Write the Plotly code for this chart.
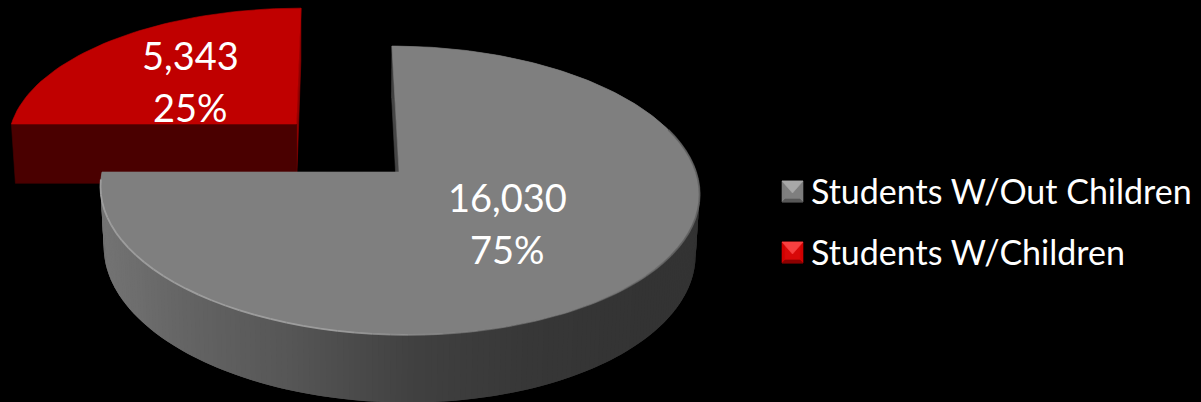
import math
import plotly.graph_objects as go

# Chart data
categories = ["Students W/Out Children", "Students W/Children"]
values = [16030, 5343]

# Slice styling
FACE_COLORS = ["#7f7f7f", "#c00000"]
RADIAL_WALL_COLORS = ["#454545", "#900000"]
OUTER_WALL_RED = "#4a0000"
# Outer wall shading of the grey slice, by screen x
WALL_STOPS = [(100, 0x74), (180, 0x64), (280, 0x56), (400, 0x41), (520, 0x37), (640, 0x33), (700, 0x33)]

# Perspective camera for the tilted disc
VANISH_X = 337.0
HORIZON_Y = -938.0
DEPTH_K = 0.128
TOP_PLANE = 1110.0
BOTTOM_PLANES = [1169.0, 1172.0]
RADII = [297.0, 298.0]
# Each slice: world offset (x, depth), x pivot and scale of its lower rim
SLICE_OFFSETS = [(62.0, 0.0), (-42.3, 0.353)]
LOWER_RIM = [(370.0, 0.988), (296.5, 0.986)]


def project(i, u, v, plane):
    offset = SLICE_OFFSETS[i]
    w = 1 + DEPTH_K * (offset[1] + v)
    return VANISH_X + (offset[0] + RADII[i] * u) / w, HORIZON_Y + plane / w


def top_point(i, angle):
    a = math.radians(angle)
    return project(i, math.sin(a), math.cos(a), TOP_PLANE)


def bottom_point(i, angle):
    a = math.radians(angle)
    x, y = project(i, math.sin(a), math.cos(a), BOTTOM_PLANES[i])
    pivot, scale = LOWER_RIM[i]
    return pivot + (x - pivot) * scale, y


def apex_top(i):
    return project(i, 0, 0, TOP_PLANE)


def apex_bottom(i):
    x, y = project(i, 0, 0, BOTTOM_PLANES[i])
    pivot, scale = LOWER_RIM[i]
    return pivot + (x - pivot) * scale, y


def grey_shade(x):
    for (x0, g0), (x1, g1) in zip(WALL_STOPS, WALL_STOPS[1:]):
        if x <= x1:
            t = max(0.0, (x - x0) / (x1 - x0))
            g = round(g0 + (g1 - g0) * t)
            return f"rgb({g},{g},{g})"
    g = WALL_STOPS[-1][1]
    return f"rgb({g},{g},{g})"


def polygon(fig, points, color, name=None, edge=0.6):
    xs = [p[0] for p in points] + [points[0][0]]
    ys = [p[1] for p in points] + [points[0][1]]
    fig.add_trace(go.Scatter(
        x=xs, y=ys, mode="lines", fill="toself", fillcolor=color,
        line=dict(color=color, width=edge), hoverinfo="skip", showlegend=False, name=name,
    ))


def polyline(fig, points, color, width):
    fig.add_trace(go.Scatter(
        x=[p[0] for p in points], y=[p[1] for p in points], mode="lines",
        line=dict(color=color, width=width), hoverinfo="skip", showlegend=False,
    ))


total = sum(values)
sweeps = [v / total * 360 for v in values]
# Grey slice runs clockwise from twelve o'clock, red slice follows it
start_angles = [0.0, sweeps[0]]
end_angles = [sweeps[0], sweeps[0] + sweeps[1]]


def arc_angles(i, step=2.0):
    n = max(2, int(round((end_angles[i] - start_angles[i]) / step)))
    return [start_angles[i] + (end_angles[i] - start_angles[i]) * k / n for k in range(n + 1)]


fig = go.Figure()

# Red slice: radial wall on the right, straight front wall, then its face
RED, GREY = 1, 0
polygon(fig, [top_point(RED, end_angles[RED]), apex_top(RED), apex_bottom(RED),
              bottom_point(RED, end_angles[RED])], RADIAL_WALL_COLORS[RED])
polygon(fig, [apex_top(RED), top_point(RED, start_angles[RED]),
              bottom_point(RED, start_angles[RED]), apex_bottom(RED)], OUTER_WALL_RED)
polygon(fig, [apex_top(RED)] + [top_point(RED, a) for a in arc_angles(RED)],
        FACE_COLORS[RED], categories[RED])

# Grey slice: radial wall at twelve o'clock, shaded rim strips, then its face
polygon(fig, [top_point(GREY, start_angles[GREY]), apex_top(GREY), apex_bottom(GREY),
              bottom_point(GREY, start_angles[GREY])], RADIAL_WALL_COLORS[GREY])
grey_arc = arc_angles(GREY, step=1.0)
for a0, a1 in zip(grey_arc, grey_arc[1:]):
    # Each strip reaches back over the previous one, hiding the antialiased joint
    back = max(start_angles[GREY], a0 - 1.0)
    quad = [top_point(GREY, back), top_point(GREY, a1), bottom_point(GREY, a1), bottom_point(GREY, back)]
    polygon(fig, quad, grey_shade((top_point(GREY, a1)[0] + bottom_point(GREY, a1)[0]) / 2), edge=0)
polygon(fig, [apex_top(GREY)] + [top_point(GREY, a) for a in grey_arc],
        FACE_COLORS[GREY], categories[GREY])

# Soft bevel along the front edge of the grey face: dark on the right, fading to light on the left
bevel_arc = arc_angles(GREY, step=3.0)
for a0, a1 in zip(bevel_arc, bevel_arc[1:]):
    if a0 < 72 or a1 > 268:
        continue
    t = min(1.0, max(0.0, (a0 - 120) / 70))
    tone = round(96 + (165 - 96) * t)
    alpha = 0.75 * abs(2 * t - 1) + 0.1
    polyline(fig, [top_point(GREY, a0), top_point(GREY, a1)], f"rgba({tone},{tone},{tone},{alpha:.2f})", 1.8)

# Legend swatches with a bevelled look
SWATCH_X = 782
SWATCH_SIZE = 21
SWATCH_Y = [181, 242]
SWATCH_SHADES = [
    dict(side="#7c7c7c", top="#a8a8a8", bottom="#575757", inner="#7f7f7f"),
    dict(side="#d00000", top="#f84040", bottom="#8c0000", inner="#d80808"),
]
BEVEL = 3
for y0, shade in zip(SWATCH_Y, SWATCH_SHADES):
    x0, x1, y1 = SWATCH_X, SWATCH_X + SWATCH_SIZE, y0 + SWATCH_SIZE
    mid = x0 + SWATCH_SIZE / 2
    polygon(fig, [(x0, y0), (x1, y0), (x1, y1), (x0, y1)], shade["side"])
    polygon(fig, [(x0 + BEVEL, y0 + BEVEL), (x1 - BEVEL, y0 + BEVEL), (x1 - BEVEL, y1 - BEVEL), (x0 + BEVEL, y1 - BEVEL)], shade["inner"])
    polygon(fig, [(x0, y0), (x1, y0), (mid, y0 + 12)], shade["top"])
    polygon(fig, [(x0, y1), (x1, y1), (x1 - BEVEL, y1 - BEVEL), (x0 + BEVEL, y1 - BEVEL)], shade["bottom"])

# Text
LABEL_FONT = dict(family="Lato", size=38, color="#ffffff")
LEGEND_FONT = dict(family="Lato", size=34, color="#ffffff")
LABEL_POS = [(507, 197, 249), (190, 55, 107)]
LEGEND_TEXT_X = 809
LEGEND_TEXT_Y = [190, 251]

annotations = []
for value, (x, y_value, y_pct) in zip(values, LABEL_POS):
    for text, y in ((f"{value:,}", y_value), (f"{value / total:.0%}", y_pct)):
        annotations.append(dict(x=x, y=y, xref="x", yref="y", text=text, showarrow=False,
                                xanchor="center", yanchor="middle", font=LABEL_FONT))
for name, y in zip(categories, LEGEND_TEXT_Y):
    annotations.append(dict(x=LEGEND_TEXT_X, y=y, xref="x", yref="y", text=name, showarrow=False,
                            xanchor="left", yanchor="middle", font=LEGEND_FONT))

fig.update_layout(
    width=1201, height=402, autosize=False,
    margin=dict(l=0, r=0, t=0, b=0, pad=0),
    paper_bgcolor="#000000", plot_bgcolor="#000000",
    xaxis=dict(range=[0, 1201], visible=False, fixedrange=True),
    yaxis=dict(range=[402, 0], visible=False, fixedrange=True),
    annotations=annotations, showlegend=False,
)

fig.write_html("out.html", config=dict(displayModeBar=False))
